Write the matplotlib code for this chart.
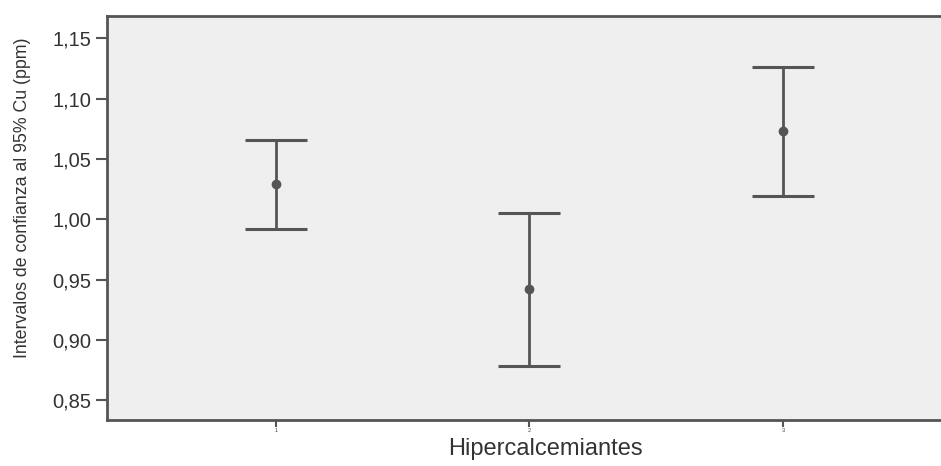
import matplotlib
matplotlib.use("Agg")
import matplotlib.pyplot as plt
import numpy as np

# data
groups = ["1", "2", "3"]
means = [1.029, 0.942, 1.073]
lower = [0.992, 0.878, 1.019]
upper = [1.066, 1.005, 1.126]
yticks = [0.85, 0.90, 0.95, 1.00, 1.05, 1.10, 1.15]

plt.rcParams['font.family'] = ['Liberation Sans', 'DejaVu Sans']

fig = plt.figure(figsize=(9.41, 4.66), dpi=100)
ax = fig.add_axes([107/941, (466-420)/466, 1 - 107/941 + 0.01, (420-16)/466])
ax.set_facecolor('#efefef')

x = np.arange(1, len(groups) + 1)
m = np.array(means)
err = [m - np.array(lower), np.array(upper) - m]
ax.errorbar(x, m, yerr=err, fmt='o', color='#555555', ecolor='#555555',
            elinewidth=2, capsize=22, capthick=2.2, markersize=6)

ax.set_xlim(0.335, 3.66)
ax.set_ylim(0.8335, 1.1685)
ax.set_xticks(x)
ax.set_xticklabels(groups, fontsize=4, color='#444444')
ax.set_yticks(yticks)
ax.set_yticklabels([f"{v:.2f}".replace('.', ',') for v in yticks], fontsize=14.5, color='#333333')
ax.tick_params(axis='y', length=8, width=1.5, color='#555555', pad=3)
ax.tick_params(axis='x', length=5, width=1.5, color='#555555', pad=1)

for side in ['left', 'bottom', 'top']:
    ax.spines[side].set_color('#555555')
    ax.spines[side].set_linewidth(2)
ax.spines['right'].set_visible(False)

ax.set_ylabel("Intervalos de confianza al 95% Cu (ppm)", fontsize=12.8, color='#333333')
ax.yaxis.set_label_coords(-0.09, 0.55)
ax.set_xlabel("Hipercalcemiantes", fontsize=17, color='#333333')
ax.xaxis.set_label_coords(0.52, -0.045, transform=ax.transAxes)
ax.xaxis.label.set_va('top')

fig.savefig("out.png", dpi=100, facecolor='white')
